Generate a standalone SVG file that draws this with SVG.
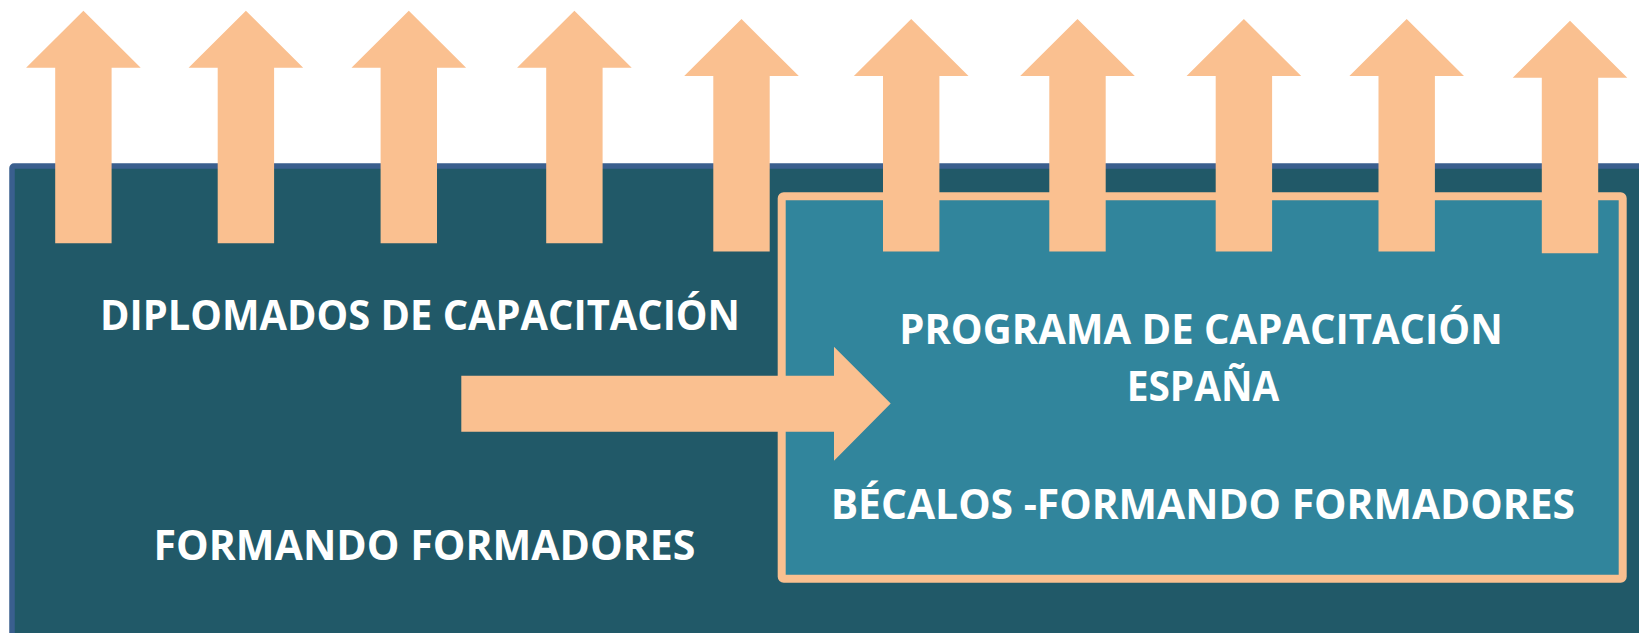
<svg xmlns="http://www.w3.org/2000/svg" xmlns:xlink="http://www.w3.org/1999/xlink" width="1639" height="633" viewBox="0 0 1639 633">
  <style>
    .bg { fill: #215968; stroke: #3A5F8E; stroke-width: 5.5; }
    .box { fill: #31859C; stroke: #FAC090; stroke-width: 8; }
    .peach { fill: #FAC090; }
    .lbl { font-family: "Open Sans", "Liberation Sans", sans-serif; font-weight: bold; font-size: 41px; fill: #FFFFFF; }
  </style>
  <defs>
    <path id="up" d="M0 0 L57.3 57 H28.2 V232.6 H-28.2 V57 H-57.3 Z"/>
  </defs>
  <rect width="1639" height="633" fill="#FFFFFF"/>
  <g id="background">
    <rect class="bg" x="12" y="166" width="1700" height="520" rx="2"/>
  </g>
  <g id="programa-box">
    <rect class="box" x="781.7" y="196.3" width="841" height="382.4" rx="2"/>
  </g>
  <g id="up-arrows" class="peach">
    <use xlink:href="#up" href="#up" x="83.4" y="10.7"/>
    <use xlink:href="#up" href="#up" x="245.9" y="10.7"/>
    <use xlink:href="#up" href="#up" x="408.8" y="10.7"/>
    <use xlink:href="#up" href="#up" x="574.4" y="10.7"/>
    <use xlink:href="#up" href="#up" x="741.5" y="19"/>
    <use xlink:href="#up" href="#up" x="911.2" y="19"/>
    <use xlink:href="#up" href="#up" x="1077.5" y="19"/>
    <use xlink:href="#up" href="#up" x="1243.9" y="19"/>
    <use xlink:href="#up" href="#up" x="1406.7" y="19"/>
    <use xlink:href="#up" href="#up" x="1570" y="20.7"/>
  </g>
  <g id="connectors">
    <path class="peach" d="M461.3 375.7 H834 V346.7 L890.7 403.5 L834 460.7 V431.7 H461.3 Z"/>
  </g>
  <g id="diplomados">
    <text class="lbl" x="100" y="330.3" textLength="640" lengthAdjust="spacingAndGlyphs">DIPLOMADOS DE CAPACITACIÓN</text>
  </g>
  <g id="formando">
    <text class="lbl" x="153.5" y="560" textLength="542" lengthAdjust="spacingAndGlyphs">FORMANDO FORMADORES</text>
  </g>
  <g id="programa">
    <text class="lbl" x="899.3" y="344.3" textLength="603.4" lengthAdjust="spacingAndGlyphs">PROGRAMA DE CAPACITACIÓN</text>
    <text class="lbl" x="1126.7" y="401" textLength="152.6" lengthAdjust="spacingAndGlyphs">ESPAÑA</text>
  </g>
  <g id="becalos">
    <text class="lbl" x="830.7" y="519" textLength="744.3" lengthAdjust="spacingAndGlyphs">BÉCALOS -FORMANDO FORMADORES</text>
  </g>
</svg>
